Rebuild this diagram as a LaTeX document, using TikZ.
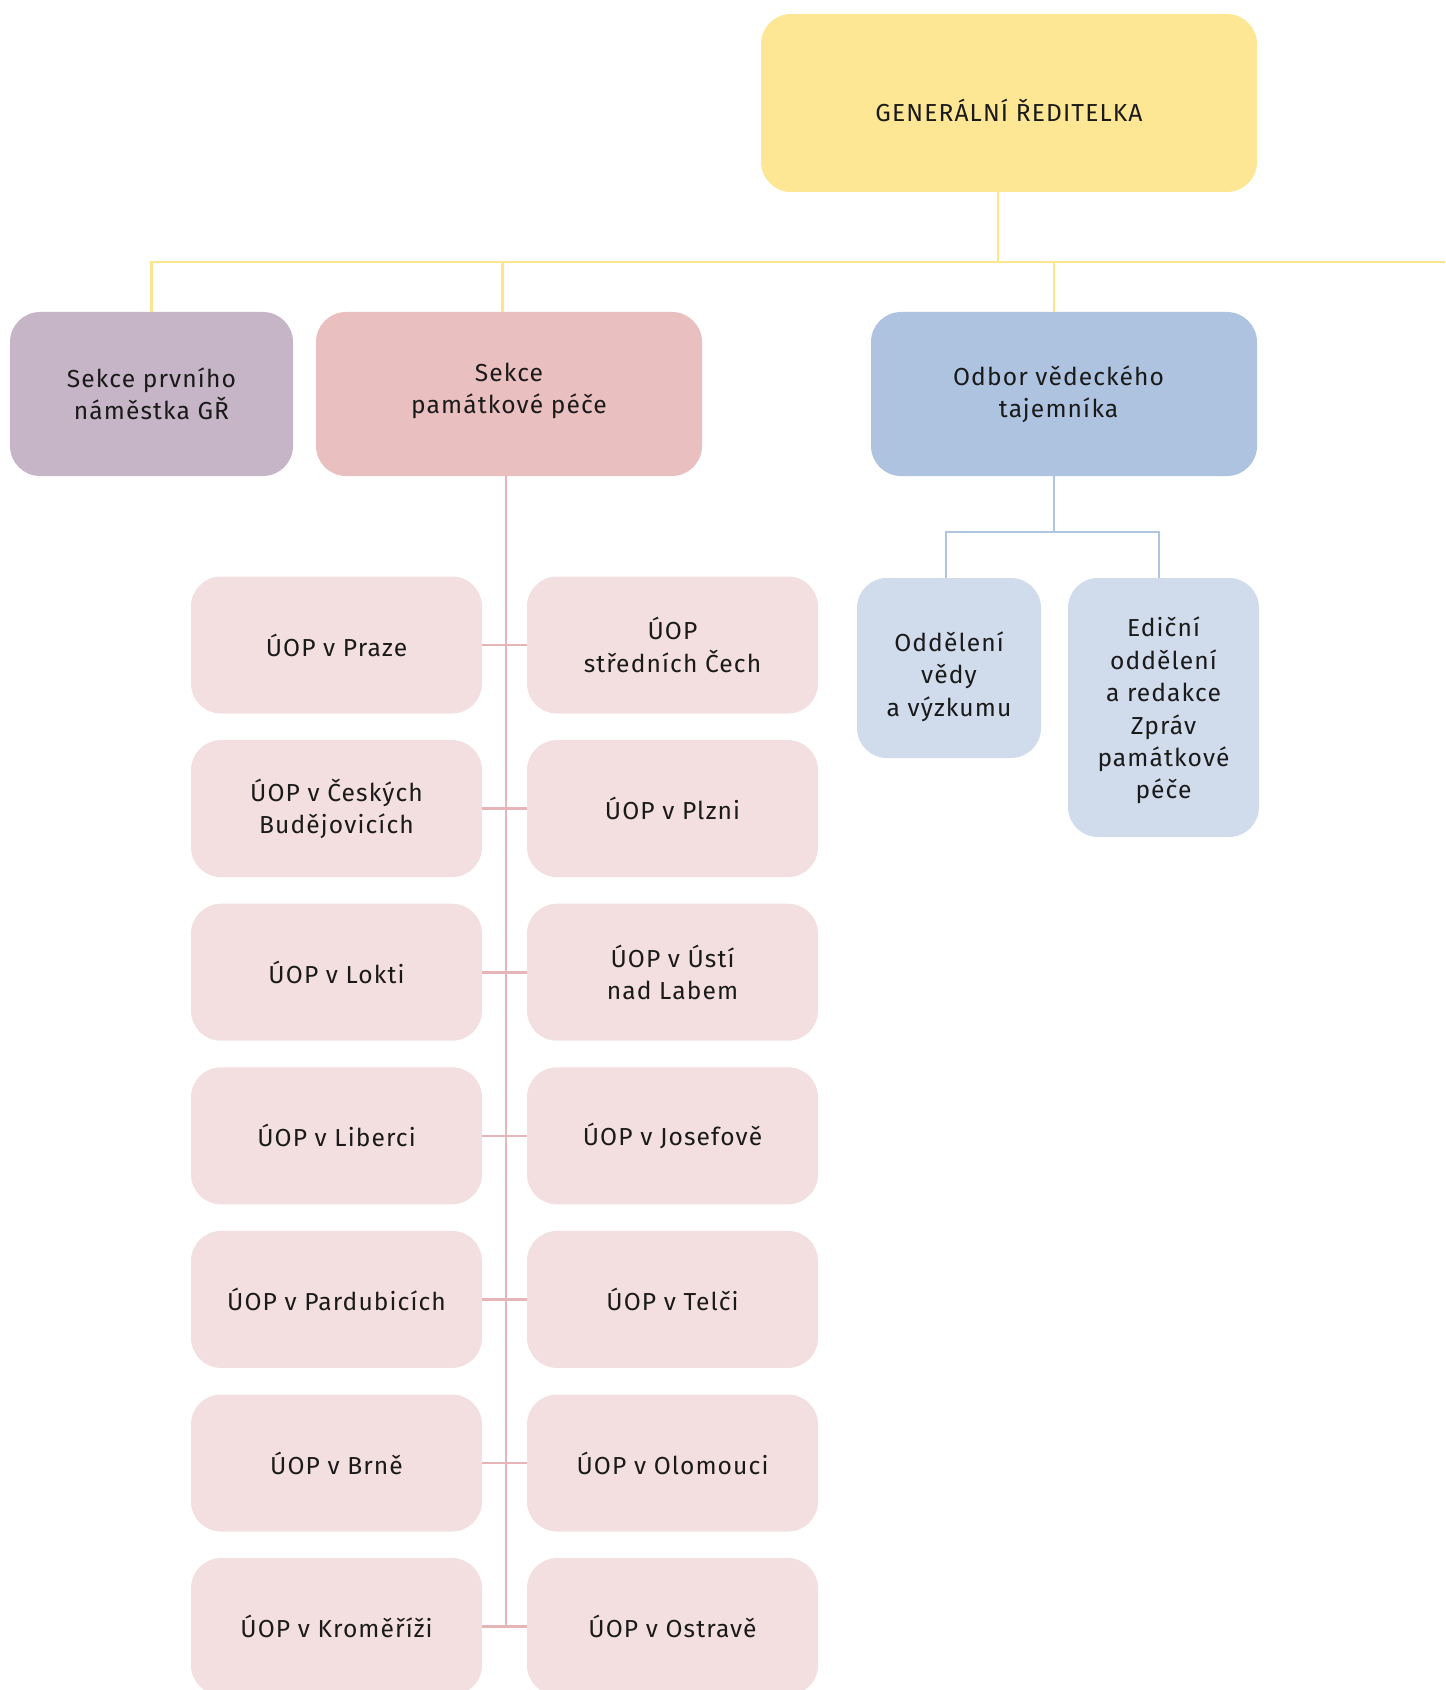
\documentclass[tikz,border=0pt]{standalone}
\usepackage{fontspec}
\setmainfont{Fira Sans}[LetterSpace=4.5]
\definecolor{grfill}{HTML}{FEE794}
\definecolor{gline}{HTML}{FDE58E}
\definecolor{nfill}{HTML}{C6B5C6}
\definecolor{spfill}{HTML}{E9BFC0}
\definecolor{uopfill}{HTML}{F3DFDF}
\definecolor{pline}{HTML}{E6B5BA}
\definecolor{ovfill}{HTML}{AEC3DF}
\definecolor{oddfill}{HTML}{D0DBEC}
\definecolor{bline}{HTML}{AFC5E0}
\definecolor{txt}{HTML}{1A1A1A}
\begin{document}
\begin{tikzpicture}[x=0.5pt,y=-0.5pt,
  lbl/.style={inner sep=0pt,align=center,text=txt,font=\fontsize{12.3}{16.2}\selectfont},
  box/.style={lbl,rounded corners=15pt},
  uop/.style={box,fill=uopfill,minimum width=145.5pt,minimum height=68.5pt},
  odd/.style={box,fill=oddfill,minimum width=#1},
  yconn/.style={draw=gline,line width=1.25pt},
  pconn/.style={draw=pline,line width=1.3pt},
  bconn/.style={draw=bline,line width=1.3pt}]
\useasboundingbox (0,0) rectangle (1445,1690);
\node[box,fill=grfill,minimum width=248pt,minimum height=89pt] (gr) at (1009,103) {};
\node[lbl] at ([yshift=-3.5pt]gr.center) {GENERÁLNÍ ŘEDITELKA};
\node[box,fill=nfill,minimum width=141.5pt,minimum height=82pt] (nam) at (151.5,394) {Sekce prvního\\náměstka GŘ};
\node[box,fill=spfill,minimum width=193pt,minimum height=82pt] (sp) at (509,394) {};
\node[lbl] at ([yshift=1.6pt]sp.center) {Sekce\\památkové péče};
\node[box,fill=ovfill,minimum width=193pt,minimum height=82pt] (ov) at (1064,394) {};
\node[lbl] at ([xshift=-2.7pt]ov.center) {Odbor vědeckého\\tajemníka};
\node[odd=92pt,minimum height=90pt] (vv) at (949,668) {};
\node[lbl] at ([yshift=-4.3pt]vv.center) {Oddělení\\vědy\\a výzkumu};
\node[odd=95.5pt,minimum height=129.5pt] (ed) at (1163.5,707.5) {};
\node[lbl] at ([yshift=-1.6pt]ed.center) {Ediční\\oddělení\\a redakce\\Zpráv\\památkové\\péče};
\coordinate (ybus) at (1445,262);
\coordinate (bbus) at (1054,532);
% spojnice
\draw[yconn] ([xshift=-5.4pt]gr.south) -- ([xshift=-5.4pt]gr.south |- ybus);
\draw[yconn] (nam.north) -- (nam.north |- ybus) -- (ybus);
\draw[yconn] ([xshift=-3.2pt]sp.north) -- ([xshift=-3.2pt]sp.north |- ybus);
\draw[yconn] (bbus |- ov.north) -- (bbus |- ybus);
\draw[bconn] (bbus |- ov.south) -- (bbus);
\draw[bconn] ([xshift=-1.5pt]vv.north) -- ([xshift=-1.5pt]vv.north |- bbus) -| ([xshift=-2.3pt]ed.north);
\foreach \L/\R [count=\i] in {{ÚOP v Praze}/{ÚOP\\středních Čech},
    {ÚOP v Českých\\Budějovicích}/{ÚOP v Plzni},
    {ÚOP v Lokti}/{ÚOP v Ústí\\nad Labem},
    {ÚOP v Liberci}/{ÚOP v Josefově},
    {ÚOP v Pardubicích}/{ÚOP v Telči},
    {ÚOP v Brně}/{ÚOP v Olomouci},
    {ÚOP v Kroměříži}/{ÚOP v Ostravě}} {
  \node[uop] (l\i) at (336.5,{645+(\i-1)*163.6}) {\L};
  \node[uop] (r\i) at (672.5,{645+(\i-1)*163.6}) {\R};
  \draw[pconn] (l\i) -- (r\i);
}
\draw[pconn] ([xshift=-1.6pt]sp.south) -- ([xshift=-1.6pt]sp.south |- l7);
\end{tikzpicture}
\end{document}
